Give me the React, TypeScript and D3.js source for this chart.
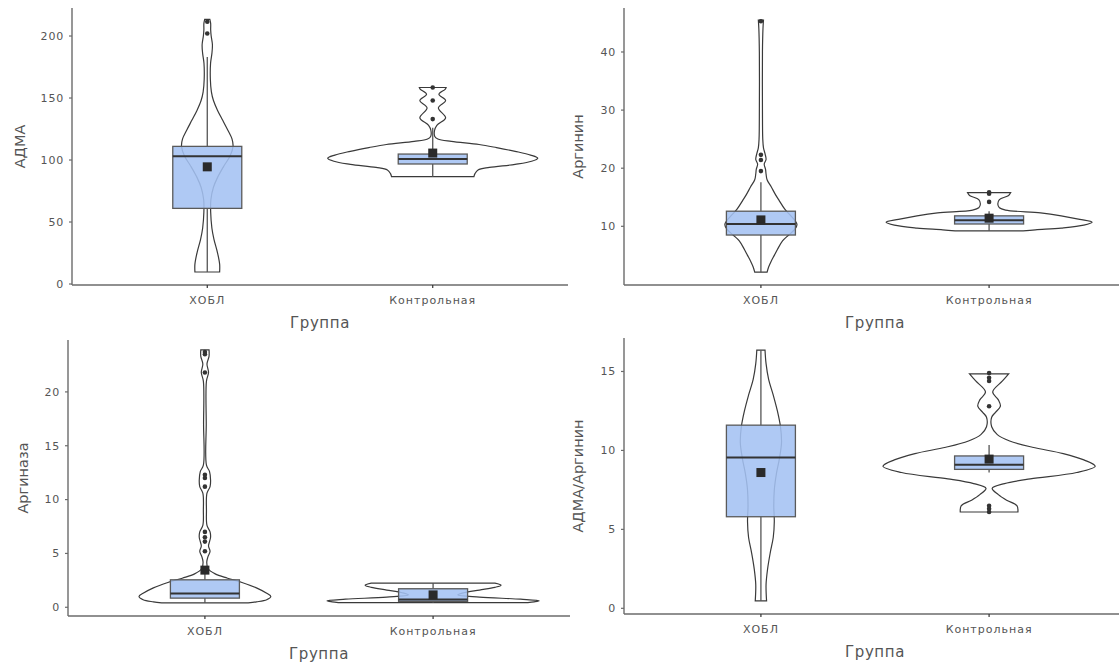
import * as d3 from "d3";

const groups = ["ХОБЛ", "Контрольная"];

// violin outlines: [value, relative density]
const admaCopdViolin: [number, number][] = [
  [213.5, 2.5], [210, 3.3], [205, 3.3], [200, 3.8], [193, 5], [186, 4.5], [178, 3.2], [165, 3],
  [155, 4], [148, 6], [140, 10], [132, 15], [124, 20], [117, 24], [111, 25], [103, 22], [95, 16],
  [86, 10], [78, 6], [68, 3.5], [58, 3.3], [45, 4.5], [36, 6.5], [25, 10], [16, 12], [9.7, 12],
];
const admaCtrlViolin: [number, number][] = [
  [158.5, 13], [157, 12], [153, 6], [148, 12.5], [142, 5.5], [134, 12.5], [128, 4], [124, 1.8],
  [119, 2], [117, 5], [115, 18], [112.5, 45], [110, 62], [107, 80], [104, 95], [101.5, 102],
  [99, 96], [96.5, 80], [94, 55], [92, 44], [89, 41], [86.6, 40],
];
const argCopdViolin: [number, number][] = [
  [45.5, 2.5], [44, 2], [40, 1.5], [30, 1.5], [25, 1.8], [23.5, 2.5], [22.5, 4], [21.5, 5],
  [20.7, 3.2], [19.8, 4.5], [19, 5], [18, 6], [16.8, 10], [15.5, 14], [14.5, 17.5], [13, 23],
  [12, 28], [11, 33], [10.3, 35], [9.5, 33], [8.5, 27], [7.5, 21], [6, 16], [5, 13], [4, 10],
  [3, 7.5], [2.1, 6],
];
const argCtrlViolin: [number, number][] = [
  [15.8, 21], [15.3, 19], [14.6, 10], [13.8, 8.5], [13.2, 10], [12.8, 16], [12.3, 50], [11.8, 70],
  [11.2, 88], [10.7, 100], [10.2, 92], [9.7, 70], [9.4, 45], [9.2, 33],
];
const arginaseCopdViolin: [number, number][] = [
  [23.9, 4], [23.3, 4], [22.6, 2], [21.8, 3.5], [21, 1.5], [17, 1.3], [13.2, 1.5], [12.6, 4.5],
  [11.8, 5.5], [11.2, 5], [10.6, 2], [9, 1.5], [7.6, 2], [7, 5], [6.5, 5.5], [6.1, 4.5], [5.7, 3.5],
  [5.2, 5], [4.7, 3], [4.2, 1.8], [3.6, 3], [3.1, 10], [2.7, 22], [2.3, 36], [1.8, 50], [1.3, 60],
  [1.0, 64], [0.7, 60], [0.5, 50], [0.4, 42],
];
const arginaseCtrlViolin: [number, number][] = [
  [2.25, 60], [2.05, 66], [1.85, 60], [1.6, 45], [1.35, 30], [1.15, 24], [0.95, 45], [0.75, 85],
  [0.6, 103], [0.5, 98], [0.43, 92],
];
const ratioCopdViolin: [number, number][] = [
  [16.35, 4], [15.5, 5], [14.5, 7.5], [13.5, 12], [12.5, 16], [11.5, 19], [10.5, 20], [9.5, 18],
  [8.5, 15], [7.5, 13], [6.5, 12.5], [5.5, 13], [4.5, 12], [3.5, 9], [2.5, 6.5], [1.5, 5], [0.47, 5.5],
];
const ratioCtrlViolin: [number, number][] = [
  [14.85, 19], [14.4, 13], [13.7, 3.5], [13.2, 9], [12.8, 11], [12.4, 6], [12.1, 2.5], [11.5, 2.5],
  [11.0, 8], [10.6, 20], [10.2, 42], [9.8, 72], [9.4, 92], [9.0, 103], [8.6, 85], [8.2, 40],
  [7.9, 15], [7.6, 3], [7.2, 9], [6.85, 17], [6.5, 27], [6.1, 28],
];

// box stats: [lower whisker, Q1, median, Q3, upper whisker]
const admaBoxes = [[9.7, 61, 103, 111, 183], [86.6, 96.8, 100.8, 104.8, 126]];
const argBoxes = [[2.1, 8.5, 10.4, 12.6, 17.6], [9.2, 10.4, 11.05, 11.8, 12.6]];
const arginaseBoxes = [[0.4, 0.85, 1.28, 2.55, 3.4], [0.43, 0.55, 0.72, 1.72, 2.25]];
const ratioBoxes = [[0.47, 5.8, 9.55, 11.6, 16.35], [8.6, 8.8, 9.1, 9.65, 10.35]];

const admaMeans = [94.5, 105.6];
const argMeans = [11.1, 11.4];
const arginaseMeans = [3.45, 1.15];
const ratioMeans = [8.6, 9.45];

const admaOutliers = [[202, 211.5], [133, 148, 158.5]];
const argOutliers = [[19.5, 21.4, 22.3, 45.3], [14.2, 15.6, 15.85]];
const arginaseOutliers = [[5.2, 6.1, 6.5, 7.0, 11.2, 12.0, 12.3, 21.8, 23.5, 23.7], []];
const ratioOutliers = [[], [6.1, 6.3, 6.5, 12.8, 14.4, 14.6, 14.9]];

const admaTicks = [0, 50, 100, 150, 200];
const argTicks = [10, 20, 30, 40];
const arginaseTicks = [0, 5, 10, 15, 20];
const ratioTicks = [0, 5, 10, 15];

const panels = [
  { title: "АДМА", left: 72, top: 8, bottom: 285, width: 496, domain: [-0.8, 222.6], ticks: admaTicks,
    violins: [admaCopdViolin, admaCtrlViolin], boxes: admaBoxes, means: admaMeans, outliers: admaOutliers, titleX: 20 },
  { title: "Аргинин", left: 624, top: 8, bottom: 285, width: 502, domain: [-0.1, 47.57], ticks: argTicks,
    violins: [argCopdViolin, argCtrlViolin], boxes: argBoxes, means: argMeans, outliers: argOutliers, titleX: 578 },
  { title: "Аргиназа", left: 68, top: 340, bottom: 616, width: 502, domain: [-0.81, 24.82], ticks: arginaseTicks,
    violins: [arginaseCopdViolin, arginaseCtrlViolin], boxes: arginaseBoxes, means: arginaseMeans, outliers: arginaseOutliers, titleX: 23 },
  { title: "АДМА/Аргинин", left: 624, top: 338, bottom: 614, width: 502, domain: [-0.36, 17.12], ticks: ratioTicks,
    violins: [ratioCopdViolin, ratioCtrlViolin], boxes: ratioBoxes, means: ratioMeans, outliers: ratioOutliers, titleX: 578 },
];

const font = "'DejaVu Sans', Verdana, sans-serif";
const axisColor = "#6b6b6b";
const boxW = 69;
const wScale = d3.scaleLinear().domain([0, 100]).range([0, 103]);

function Panel({ p }: { p: any }) {
  const y = d3.scaleLinear().domain(p.domain).range([p.bottom, p.top]);
  const x = d3.scalePoint().domain(groups).range([p.left, p.left + p.width]).padding(0.6);

  return (
    <g>
      {groups.map((g, i) => {
        const cx = x(g) as number;
        const area = d3
          .area<[number, number]>()
          .x0((d) => cx - wScale(d[1]))
          .x1((d) => cx + wScale(d[1]))
          .y((d) => y(d[0]))
          .curve(d3.curveCatmullRom.alpha(0.5));
        const [lo, q1, med, q3, hi] = p.boxes[i];
        return (
          <g key={g}>
            <path d={area(p.violins[i]) || ""} fill="none" stroke="#3a3a3a" strokeWidth={1.2} />
            <line x1={cx} x2={cx} y1={y(hi)} y2={y(q3)} stroke="#555" strokeWidth={1.3} />
            <line x1={cx} x2={cx} y1={y(q1)} y2={y(lo)} stroke="#555" strokeWidth={1.3} />
            <rect x={cx - boxW / 2} width={boxW} y={y(q3)} height={y(q1) - y(q3)}
              fill="#a4c2f2" fillOpacity={0.88} stroke="#5a5a5a" strokeWidth={1.3} />
            <line x1={cx - boxW / 2} x2={cx + boxW / 2} y1={y(med)} y2={y(med)} stroke="#333" strokeWidth={2} />
            {p.outliers[i].map((v: number, k: number) => (
              <circle key={k} cx={cx} cy={y(v)} r={2.3} fill="#333" />
            ))}
            <rect x={cx - 4.5} y={y(p.means[i]) - 4.5} width={9} height={9} fill="#2a2a2a" />
          </g>
        );
      })}
      {/* axes */}
      <line x1={p.left} x2={p.left} y1={p.top} y2={p.bottom} stroke={axisColor} strokeWidth={1.4} />
      <line x1={p.left} x2={p.left + p.width} y1={p.bottom} y2={p.bottom} stroke={axisColor} strokeWidth={1.4} />
      {p.ticks.map((t: number) => (
        <g key={t}>
          <line x1={p.left - 3} x2={p.left} y1={y(t)} y2={y(t)} stroke={axisColor} strokeWidth={1.2} />
          <text x={p.left - 8} y={y(t)} dy="0.35em" textAnchor="end" fontSize={11} fill="#555"
            fontFamily={font} letterSpacing={0.8}>{t}</text>
        </g>
      ))}
      {groups.map((g) => (
        <g key={g}>
          <line x1={x(g)} x2={x(g)} y1={p.bottom} y2={p.bottom + 3} stroke="#333" strokeWidth={1.2} />
          <text x={x(g)} y={p.bottom + 15} dy="0.35em" textAnchor="middle" fontSize={11} fill="#555"
            fontFamily={font} letterSpacing={1}>{g}</text>
        </g>
      ))}
      <text x={p.left + p.width / 2} y={p.bottom + 38} dy="0.35em" textAnchor="middle" fontSize={15}
        fill="#555" fontFamily={font} letterSpacing={0.6}>Группа</text>
      <text transform={`translate(${p.titleX},${(p.top + p.bottom) / 2}) rotate(-90)`} dy="0.35em"
        textAnchor="middle" fontSize={14.5} fill="#555" fontFamily={font}>{p.title}</text>
    </g>
  );
}

export default function App() {
  return (
    <svg width={1119} height={667} style={{ position: "absolute", left: 0, top: 0, background: "#fff" }}>
      {panels.map((p, i) => (
        <Panel key={i} p={p} />
      ))}
    </svg>
  );
}
